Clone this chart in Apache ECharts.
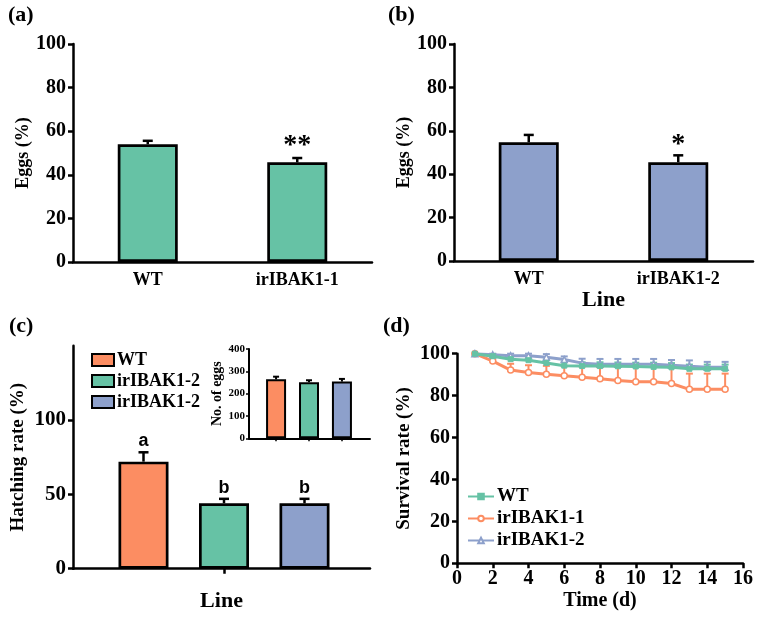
<!DOCTYPE html>
<html>
<head>
<meta charset="utf-8">
<script src="https://cdn.jsdelivr.net/npm/echarts@6/dist/echarts.min.js"></script>
<style>html,body{margin:0;padding:0;background:#fff}#main{width:762px;height:620px}</style>
</head>
<body>
<div id="main"></div>
<script>
// ---------- DATA ----------
const categoriesA = ['WT', 'irIBAK1-1'];
const eggsA = [54, 45.7];
const eggsAErr = [1.6, 2];
const marksA = ['', '**'];

const categoriesB = ['WT', 'irIBAK1-2'];
const eggsB = [54.7, 45.5];
const eggsBErr = [3.4, 3.2];
const marksB = ['', '*'];

const hatchLines = ['WT', 'irIBAK1-2', 'irIBAK1-2'];
const hatchPos = [1, 2, 3];
const hatch = [72, 44, 44];
const hatchErr = [6.3, 3, 3];
const hatchMarks = ['a', 'b', 'b'];

const eggCount = [264, 251, 254];
const eggCountErr = [12, 9, 12];

const days = [1, 2, 3, 4, 5, 6, 7, 8, 9, 10, 11, 12, 13, 14, 15];
const survNames = ['WT', 'irIBAK1-1', 'irIBAK1-2'];
const survWT = [100, 98.8, 97.4, 96.9, 95.6, 94.3, 94.1, 94.1, 94, 93.9, 93.7, 93.5, 92.8, 92.8, 92.8];
const survWTErr = [0, 1, 1.2, 1.5, 1.6, 1.8, 1.8, 1.8, 1.8, 1.8, 2, 2, 2, 2, 2];
const survKO1 = [100, 96.5, 92.2, 91, 90.2, 89.5, 88.8, 88, 87.2, 86.6, 86.6, 85.8, 83, 83, 83];
const survKO1Err = [0, 2.5, 3, 3.5, 4, 4.5, 5, 5.5, 6.5, 7, 7, 7.5, 7.5, 7.5, 7.5];
const survKO2 = [100, 99.5, 99, 99, 98.3, 97.2, 95.5, 95, 95, 95, 95, 94.5, 94, 93.5, 93.5];
const survKO2Err = [0, 0.5, 1, 1, 1.5, 1.5, 2.1, 2.5, 2.5, 2.5, 2.5, 2.5, 2.8, 2.6, 2.6];

// ---------- STYLE ----------
const GREEN = '#66C2A5', ORANGE = '#FC8D62', BLUE = '#8DA0CB';
const SERIF = '"Liberation Serif", "Times New Roman", serif';
const SANS = '"Liberation Sans", Arial, sans-serif';
const AX = {color: '#000', width: 2.5};

function yAxisOpt(grid, max, interval, name, gap, size, nameSize, custom) {
  return {
    type: 'value', gridIndex: grid, min: 0, max: max, interval: interval,
    name: name, nameLocation: 'middle', nameGap: gap,
    nameTextStyle: {fontFamily: SERIF, fontWeight: 'bold', fontSize: nameSize, color: '#000'},
    axisLine: {show: true, lineStyle: AX},
    axisTick: {show: true, length: 5, lineStyle: AX, customValues: custom ? custom : undefined},
    axisLabel: {fontFamily: SERIF, fontWeight: 'bold', fontSize: size, color: '#000', margin: 7,
      customValues: custom ? custom : undefined},
    splitLine: {show: false}
  };
}

function errRender(color, capW, lw, marks, markFont, markGap) {
  return function (params, api) {
    const x = api.value(0), y = api.value(1), e = api.value(2);
    const p0 = api.coord([x, y]);
    const p1 = api.coord([x, y + e]);
    const children = [];
    if (e > 0) {
      children.push({type: 'line', shape: {x1: p0[0], y1: p0[1], x2: p1[0], y2: p1[1]},
        style: {stroke: color, lineWidth: lw}});
      children.push({type: 'line', shape: {x1: p1[0] - capW / 2, y1: p1[1], x2: p1[0] + capW / 2, y2: p1[1]},
        style: {stroke: color, lineWidth: lw}});
    }
    if (marks && marks[params.dataIndex]) {
      children.push({type: 'text', x: p1[0], y: p1[1] - markGap,
        style: {text: marks[params.dataIndex], font: markFont, fill: '#000',
          textAlign: 'center', textVerticalAlign: 'bottom'}});
    }
    return {type: 'group', children: children};
  };
}

const barBorder = {borderColor: '#000', borderWidth: 2.7};

const legendLabels = {
  c0: hatchLines[0], c1: hatchLines[1], c2: hatchLines[2],
  d0: survNames[0], d1: survNames[1], d2: survNames[2]
};

const option = {
  animation: false,
  backgroundColor: '#fff',
  graphic: [
    {type: 'text', left: 8, top: 4, style: {text: '(a)', font: 'bold 22px ' + SERIF, fill: '#000'}},
    {type: 'text', left: 388, top: 4, style: {text: '(b)', font: 'bold 22px ' + SERIF, fill: '#000'}},
    {type: 'text', left: 9, top: 315, style: {text: '(c)', font: 'bold 22px ' + SERIF, fill: '#000'}},
    {type: 'text', left: 383, top: 315, style: {text: '(d)', font: 'bold 22px ' + SERIF, fill: '#000'}}
  ],
  grid: [
    {left: 73, top: 44, width: 299, height: 218},
    {left: 454, top: 44, width: 299, height: 217},
    {left: 73, top: 345.7, width: 297, height: 223},
    {left: 249, top: 349, width: 121, height: 89.3},
    {left: 457, top: 353.7, width: 286, height: 209.6}
  ],
  legend: [
    {
      data: ['c0', 'c1', 'c2'], orient: 'vertical', left: 86, top: 346,
      itemWidth: 22, itemHeight: 12, itemGap: 3, icon: 'rect', selectedMode: false,
      formatter: n => legendLabels[n],
      textStyle: {fontFamily: SERIF, fontWeight: 'bold', fontSize: 18, color: '#000', padding: [0, 0, 0, -2]}
    },
    {
      data: ['d0', 'd1', 'd2'], orient: 'vertical', left: 462, top: 482,
      itemWidth: 26, itemHeight: 7, itemGap: 3, selectedMode: false,
      formatter: n => legendLabels[n],
      textStyle: {fontFamily: SERIF, fontWeight: 'bold', fontSize: 19, color: '#000', padding: [0, 0, 0, -2]}
    }
  ],
  xAxis: [
    {type: 'category', gridIndex: 0, data: categoriesA,
      axisLine: {lineStyle: AX}, axisTick: {alignWithLabel: true, length: 5, lineStyle: AX},
      axisLabel: {fontFamily: SERIF, fontWeight: 'bold', fontSize: 18, color: '#000', margin: 9}},
    {type: 'category', gridIndex: 1, data: categoriesB,
      name: 'Line', nameLocation: 'middle', nameGap: 28,
      nameTextStyle: {fontFamily: SERIF, fontWeight: 'bold', fontSize: 22, color: '#000'},
      axisLine: {lineStyle: AX}, axisTick: {alignWithLabel: true, length: 5, lineStyle: AX},
      axisLabel: {fontFamily: SERIF, fontWeight: 'bold', fontSize: 18, color: '#000', margin: 9}},
    {type: 'value', gridIndex: 2, min: 0.1242, max: 3.8136,
      name: 'Line', nameLocation: 'middle', nameGap: 22,
      nameTextStyle: {fontFamily: SERIF, fontWeight: 'bold', fontSize: 22, color: '#000'},
      axisLine: {show: true, onZero: false, lineStyle: AX},
      axisTick: {show: true, length: 5, lineStyle: AX, customValues: [2]},
      axisLabel: {show: false}, splitLine: {show: false}},
    {type: 'value', gridIndex: 3, min: 0.178, max: 3.852,
      axisLine: {show: true, onZero: false, lineStyle: {color: '#000', width: 2}},
      axisTick: {show: true, length: 3, lineStyle: {color: '#000', width: 1.5}, customValues: hatchPos},
      axisLabel: {show: false}, splitLine: {show: false}},
    {type: 'value', gridIndex: 4, min: 0, max: 16, interval: 2,
      name: 'Time (d)', nameLocation: 'middle', nameGap: 28,
      nameTextStyle: {fontFamily: SERIF, fontWeight: 'bold', fontSize: 20, color: '#000'},
      axisLine: {show: true, onZero: false, lineStyle: AX},
      axisTick: {show: true, length: 5, lineStyle: AX},
      axisLabel: {fontFamily: SERIF, fontWeight: 'bold', fontSize: 20, color: '#000', margin: 6},
      splitLine: {show: false}}
  ],
  yAxis: [
    yAxisOpt(0, 100, 20, 'Eggs (%)', 38, 20, 18),
    yAxisOpt(1, 100, 20, 'Eggs (%)', 38, 20, 18),
    yAxisOpt(2, 150, 50, 'Hatching rate (%)', 45, 21, 19, [0, 50, 100]),
    Object.assign(yAxisOpt(3, 400, 100, 'No. of eggs', 20, 11, 14), {
      axisLine: {show: true, lineStyle: {color: '#000', width: 2}},
      axisTick: {show: true, length: 3, lineStyle: {color: '#000', width: 1.5}},
      axisLabel: {fontFamily: SERIF, fontWeight: 'bold', fontSize: 11, color: '#000', margin: 4}
    }),
    yAxisOpt(4, 100, 20, 'Survival rate (%)', 43, 20, 19)
  ],
  series: [
    // (a)
    {type: 'bar', xAxisIndex: 0, yAxisIndex: 0, data: eggsA, barWidth: 60,
      itemStyle: Object.assign({color: GREEN}, barBorder)},
    {type: 'custom', xAxisIndex: 0, yAxisIndex: 0, z: 5,
      data: eggsA.map((v, i) => [i, v, eggsAErr[i]]),
      renderItem: errRender('#000', 10, 2.5, marksA, 'bold 28px ' + SERIF, -2)},
    // (b)
    {type: 'bar', xAxisIndex: 1, yAxisIndex: 1, data: eggsB, barWidth: 60,
      itemStyle: Object.assign({color: BLUE}, barBorder)},
    {type: 'custom', xAxisIndex: 1, yAxisIndex: 1, z: 5,
      data: eggsB.map((v, i) => [i, v, eggsBErr[i]]),
      renderItem: errRender('#000', 10, 2.5, marksB, 'bold 28px ' + SERIF, -3)},
    // (c) main
    {name: 'c0', type: 'bar', xAxisIndex: 2, yAxisIndex: 2, barWidth: 50, barGap: '-100%',
      data: [[hatchPos[0], hatch[0]]], itemStyle: Object.assign({color: ORANGE}, barBorder)},
    {name: 'c1', type: 'bar', xAxisIndex: 2, yAxisIndex: 2, barWidth: 50, barGap: '-100%',
      data: [[hatchPos[1], hatch[1]]], itemStyle: Object.assign({color: GREEN}, barBorder)},
    {name: 'c2', type: 'bar', xAxisIndex: 2, yAxisIndex: 2, barWidth: 50, barGap: '-100%',
      data: [[hatchPos[2], hatch[2]]], itemStyle: Object.assign({color: BLUE}, barBorder)},
    {type: 'custom', xAxisIndex: 2, yAxisIndex: 2, z: 5,
      data: hatch.map((v, i) => [hatchPos[i], v, hatchErr[i]]),
      renderItem: errRender('#000', 10, 2.5, hatchMarks, 'bold 18px ' + SANS, 2)},
    // (c) inset
    {type: 'bar', xAxisIndex: 3, yAxisIndex: 3, barWidth: 20,
      data: eggCount.map((v, i) => ({value: [hatchPos[i], v],
        itemStyle: {color: [ORANGE, GREEN, BLUE][i]}})),
      itemStyle: {borderColor: '#000', borderWidth: 2}},
    {type: 'custom', xAxisIndex: 3, yAxisIndex: 3, z: 5,
      data: eggCount.map((v, i) => [hatchPos[i], v, eggCountErr[i]]),
      renderItem: errRender('#000', 6, 2, null)},
    // (d)
    {type: 'custom', xAxisIndex: 4, yAxisIndex: 4, z: 1,
      data: survKO1.map((v, i) => [days[i], v, survKO1Err[i]]),
      renderItem: errRender(ORANGE, 7, 2, null)},
    {type: 'custom', xAxisIndex: 4, yAxisIndex: 4, z: 1,
      data: survKO2.map((v, i) => [days[i], v, survKO2Err[i]]),
      renderItem: errRender(BLUE, 7, 2, null)},
    {type: 'custom', xAxisIndex: 4, yAxisIndex: 4, z: 1,
      data: survWT.map((v, i) => [days[i], v, survWTErr[i]]),
      renderItem: errRender(GREEN, 7, 2, null)},
    {name: 'd1', type: 'line', xAxisIndex: 4, yAxisIndex: 4, z: 3,
      data: survKO1.map((v, i) => [days[i], v]),
      symbol: 'circle', symbolSize: 6, showAllSymbol: true,
      lineStyle: {color: ORANGE, width: 3},
      itemStyle: {color: '#fff', borderColor: ORANGE, borderWidth: 1.5}},
    {name: 'd0', type: 'line', xAxisIndex: 4, yAxisIndex: 4, z: 4,
      data: survWT.map((v, i) => [days[i], v]),
      symbol: 'rect', symbolSize: 5, showAllSymbol: true,
      lineStyle: {color: GREEN, width: 3},
      itemStyle: {color: GREEN, borderColor: GREEN, borderWidth: 1}},
    {name: 'd2', type: 'line', xAxisIndex: 4, yAxisIndex: 4, z: 3,
      data: survKO2.map((v, i) => [days[i], v]),
      symbol: 'triangle', symbolSize: 6, showAllSymbol: true,
      lineStyle: {color: BLUE, width: 3},
      itemStyle: {color: '#fff', borderColor: BLUE, borderWidth: 1.5}}
  ]
};

const chart = echarts.init(document.getElementById('main'), null, {renderer: 'canvas'});
chart.setOption(option);
</script>
</body>
</html>
